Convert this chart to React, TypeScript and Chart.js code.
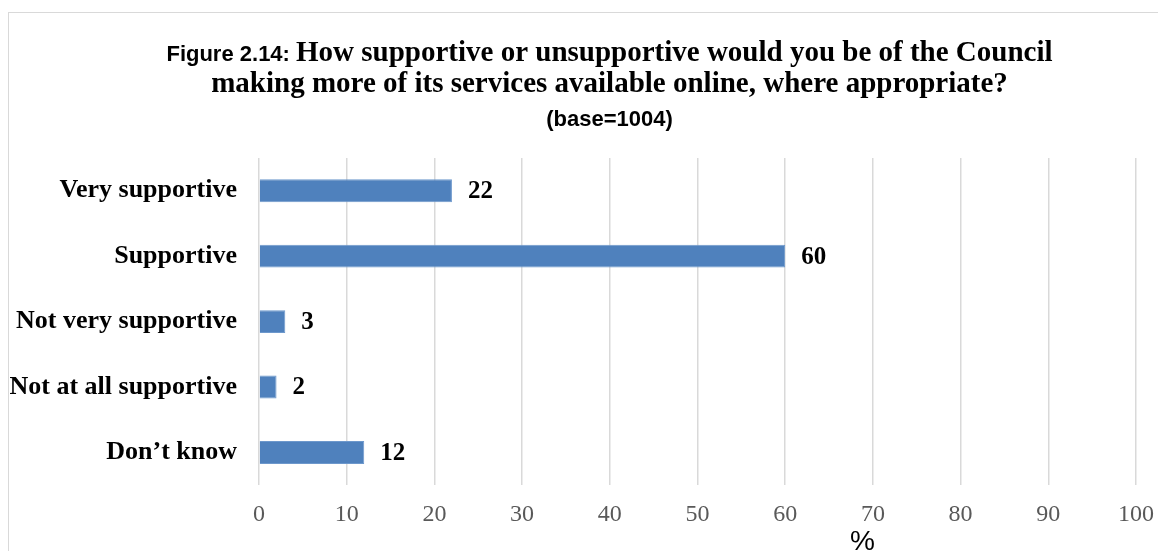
import React, { useEffect, useRef } from "react";
import { Chart, registerables } from "chart.js";

Chart.register(...registerables);

// ---- data ----
const categories = [
  "Very supportive",
  "Supportive",
  "Not very supportive",
  "Not at all supportive",
  "Don’t know",
];
const values = [22, 60, 3, 2, 12];
const xMin = 0;
const xMax = 100;
const xStep = 10;
const axisTitle = "%";
const titleLine1Sans = "Figure 2.14: ";
const titleLine1Serif = "How supportive or unsupportive would you be of the Council";
const titleLine2Serif = "making more of its services available online, where appropriate?";
const titleLine3Sans = "(base=1004)";

// ---- styles ----
const SERIF = "'Liberation Serif', 'Times New Roman', serif";
const SANS = "'Liberation Sans', Arial, sans-serif";
const BAR_COLOR = "#4f81bd";
const GRID_COLOR = "#d9d9d9";

const titlePlugin = {
  id: "mixedTitle",
  afterDraw(chart: any) {
    const ctx = chart.ctx as CanvasRenderingContext2D;
    const cx = chart.width / 2;
    const lines = [
      { baseline: 48, segs: [{ t: titleLine1Sans, f: `bold 22px ${SANS}` }, { t: titleLine1Serif, f: `bold 29px ${SERIF}` }] },
      { baseline: 79, segs: [{ t: titleLine2Serif, f: `bold 29px ${SERIF}` }] },
      { baseline: 113, segs: [{ t: titleLine3Sans, f: `bold 22px ${SANS}` }] },
    ];
    ctx.save();
    ctx.fillStyle = "#000";
    ctx.textBaseline = "alphabetic";
    ctx.textAlign = "left";
    for (const line of lines) {
      let total = 0;
      const widths = line.segs.map((s) => {
        ctx.font = s.f;
        const w = ctx.measureText(s.t).width;
        total += w;
        return w;
      });
      let x = cx - total / 2;
      line.segs.forEach((s, i) => {
        ctx.font = s.f;
        ctx.fillText(s.t, x, line.baseline);
        x += widths[i];
      });
    }
    ctx.restore();
  },
};

const labelsPlugin = {
  id: "barValueLabels",
  afterDatasetsDraw(chart: any) {
    const ctx = chart.ctx as CanvasRenderingContext2D;
    const meta = chart.getDatasetMeta(0);
    ctx.save();
    ctx.font = `bold 25px ${SERIF}`;
    ctx.fillStyle = "#000";
    ctx.textAlign = "left";
    ctx.textBaseline = "middle";
    meta.data.forEach((bar: any, i: number) => {
      ctx.fillText(String(values[i]), bar.x + 16, bar.y + 1);
    });
    // axis title
    const xs = chart.scales.x;
    ctx.font = `28px ${SANS}`;
    ctx.textAlign = "center";
    ctx.textBaseline = "alphabetic";
    ctx.fillText(axisTitle, xs.left + xs.width * 0.688, 537);
    ctx.restore();
  },
};

export default function App() {
  const ref = useRef<HTMLCanvasElement | null>(null);

  useEffect(() => {
    if (!ref.current) return;
    const chart = new Chart(ref.current, {
      type: "bar",
      data: {
        labels: categories,
        datasets: [
          {
            data: values,
            backgroundColor: BAR_COLOR,
            borderColor: "#6d98cc",
            borderWidth: 1,
            barPercentage: 0.35,
            categoryPercentage: 1,
          },
        ],
      },
      options: {
        indexAxis: "y",
        responsive: false,
        animation: false,
        layout: { padding: { top: 145, right: 74, bottom: 37, left: 0 } },
        plugins: {
          legend: { display: false },
          tooltip: { enabled: false },
          title: { display: false },
        },
        scales: {
          x: {
            min: xMin,
            max: xMax,
            ticks: {
              stepSize: xStep,
              color: "#595959",
              font: { family: SERIF, size: 24 },
              padding: 15,
            },
            grid: { color: GRID_COLOR, lineWidth: 1.5, drawTicks: false },
            border: { display: false },
          },
          y: {
            ticks: {
              color: "#000",
              font: { family: SERIF, size: 26, weight: "bold" },
              padding: 22,
            },
            grid: { display: false, drawTicks: false },
            border: { display: false },
            afterFit(scale: any) {
              scale.width = 250;
            },
          },
        },
      },
      plugins: [titlePlugin, labelsPlugin],
    });
    return () => chart.destroy();
  }, []);

  return (
    <div style={{ position: "fixed", left: 0, top: 0, width: "100vw", height: "100vh", overflow: "hidden", background: "#fff" }}>
      <div
        style={{
          position: "absolute",
          left: 8,
          top: 12,
          width: 1203,
          height: 570,
          border: `1px solid ${GRID_COLOR}`,
          boxSizing: "border-box",
        }}
      >
        <canvas ref={ref} width={1201} height={568} style={{ display: "block" }} />
      </div>
    </div>
  );
}
